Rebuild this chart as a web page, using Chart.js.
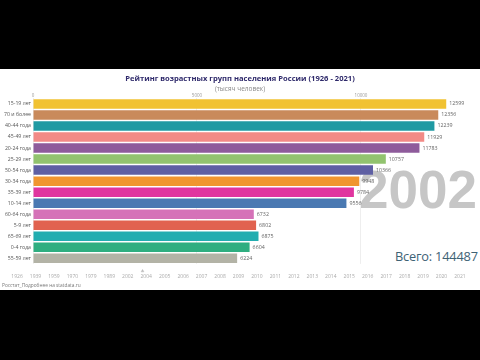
<!DOCTYPE html>
<html>
<head>
<meta charset="utf-8">
<script src="https://cdn.jsdelivr.net/npm/chart.js@4.4.1/dist/chart.umd.min.js"></script>
<style>
  html, body { margin: 0; padding: 0; background: #000; width: 480px; height: 360px; overflow: hidden; }
  #stage { position: absolute; left: 0; top: 69px; width: 480px; height: 221px; background: #fff; }
  #title { position: absolute; left: 0; width: 480px; top: 4px; text-align: center;
           font: bold 7.6px "Open Sans", sans-serif; color: #2f2a6b; white-space: nowrap; }
  #subtitle { position: absolute; left: 0; width: 480px; top: 15px; text-align: center;
           font: 6.5px "Open Sans", sans-serif; color: #888; white-space: nowrap; }
  #year { position: absolute; left: 359px; top: 94px; font: bold 53px "Liberation Sans", sans-serif;
          color: #c6c6c6; line-height: 53px; white-space: nowrap; }
  #total { position: absolute; left: 395px; top: 178px; font: 12.8px "Open Sans", sans-serif;
           color: #3e6275; white-space: nowrap; letter-spacing: -0.2px; }
  #source { position: absolute; left: 2px; top: 213px; font: 4.8px "Open Sans", sans-serif; color: #777; white-space: nowrap; }
  #main { position: absolute; left: 0; top: 0; }
  #timeline { position: absolute; left: 0; top: 193px; }
</style>
</head>
<body>
<div id="stage">
  <div id="year">2002</div>
  <div id="total">Всего: 144487</div>
  <canvas id="main" width="480" height="200"></canvas>
  <canvas id="timeline" width="480" height="24"></canvas>
  <div id="title">Рейтинг возрастных групп населения России (1926 - 2021)</div>
  <div id="subtitle">(тысяч человек)</div>
  <div id="source">Росстат_Подробнее на statdata.ru</div>
</div>
<script>
const categories = ["15-19 лет", "70 и более", "40-44 года", "45-49 лет", "20-24 года", "25-29 лет",
  "50-54 года", "30-34 года", "35-39 лет", "10-14 лет", "60-64 года", "5-9 лет", "65-69 лет", "0-4 года", "55-59 лет"];
const values = [12599, 12356, 12239, 11929, 11783, 10757, 10366, 9948, 9784, 9556, 6732, 6802, 6875, 6604, 6224];
const barColors = ["#f1c232", "#c98a5b", "#1f9aa3", "#f28a86", "#8e5b9b", "#92c36f", "#5e5fa3", "#f0952f",
  "#e0359f", "#4a79b2", "#d572b8", "#e1624f", "#22adb0", "#2fae80", "#b3b3a6"];
const xTicks = [0, 5000, 10000];
const timelineYears = ["1926", "1939", "1959", "1970", "1979", "1989", "2002", "2004", "2005", "2006", "2007",
  "2008", "2009", "2010", "2011", "2012", "2013", "2014", "2015", "2016", "2017", "2018", "2019", "2020", "2021"];
const timelineThumb = [{ x: 6.8, y: 0.3 }];

const valueLabels = {
  id: 'valueLabels',
  afterDatasetsDraw(chart) {
    const ctx = chart.ctx;
    const meta = chart.getDatasetMeta(0);
    ctx.save();
    ctx.font = '5.3px "Open Sans", sans-serif';
    ctx.fillStyle = '#666';
    ctx.textAlign = 'left';
    ctx.textBaseline = 'middle';
    meta.data.forEach((bar, i) => {
      ctx.fillText(String(values[i]), bar.x + 3, bar.y);
    });
    ctx.restore();
  }
};

new Chart(document.getElementById('main'), {
  type: 'bar',
  data: {
    labels: categories,
    datasets: [{
      data: values,
      backgroundColor: barColors,
      borderWidth: 0,
      barPercentage: 0.86,
      categoryPercentage: 1.0
    }]
  },
  options: {
    indexAxis: 'y',
    responsive: false,
    animation: false,
    devicePixelRatio: 1,
    layout: { padding: { top: 0, bottom: 2.4, left: 0, right: 7.5 } },
    plugins: { legend: { display: false }, tooltip: { enabled: false }, title: { display: false } },
    scales: {
      x: {
        type: 'linear',
        position: 'top',
        min: 0,
        max: 13400,
        afterBuildTicks: s => { s.ticks = xTicks.map(v => ({ value: v })); },
        afterFit: s => { s.height = 29.4; },
        ticks: { padding: 0, font: { size: 4.5, family: 'Open Sans' }, color: '#999', callback: v => String(v) },
        grid: { color: '#eeeeee', drawTicks: false },
        border: { display: false }
      },
      y: {
        afterFit: s => { s.width = 33; },
        ticks: { padding: 2, font: { size: 5.2, family: 'Open Sans' }, color: '#555', autoSkip: false },
        grid: { display: false, drawTicks: false },
        border: { display: false }
      }
    }
  },
  plugins: [valueLabels]
});

new Chart(document.getElementById('timeline'), {
  type: 'scatter',
  data: {
    datasets: [{
      data: timelineThumb,
      pointStyle: 'triangle',
      pointRadius: 1.6,
      backgroundColor: '#bbb',
      borderColor: '#bbb',
      borderWidth: 0.5
    }]
  },
  options: {
    responsive: false,
    animation: false,
    devicePixelRatio: 1,
    layout: { padding: { top: 0, bottom: 6, left: 7.8, right: 10.8 } },
    plugins: { legend: { display: false }, tooltip: { enabled: false } },
    scales: {
      x: {
        type: 'linear',
        position: 'bottom',
        min: -0.5,
        max: 24.5,
        afterBuildTicks: s => { s.ticks = timelineYears.map((y, i) => ({ value: i })); },
        afterFit: s => { s.height = 7; },
        ticks: {
          padding: 1, maxRotation: 0, autoSkip: false,
          font: { size: 5, family: 'Open Sans' }, color: '#aaa',
          callback: (v) => timelineYears[v]
        },
        grid: { display: false, drawTicks: false },
        border: { display: false }
      },
      y: { display: false, min: 0, max: 1 }
    }
  }
});
</script>
</body>
</html>
